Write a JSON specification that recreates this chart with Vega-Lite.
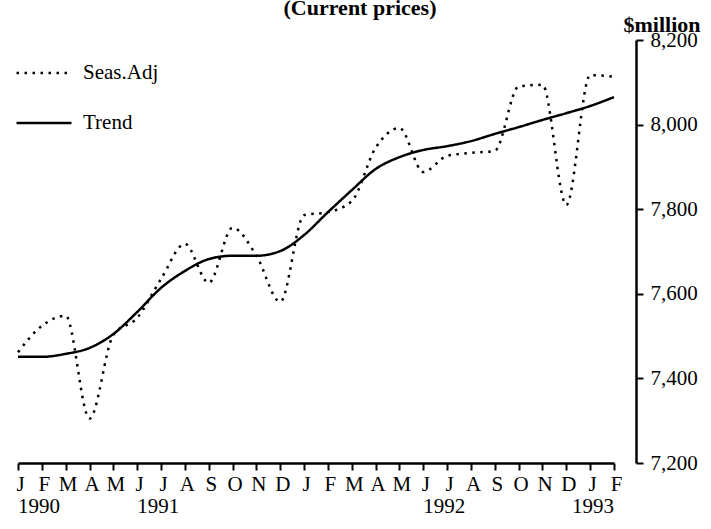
{
  "$schema": "https://vega.github.io/schema/vega-lite/v6.json",
  "width": 596,
  "height": 423,
  "autosize": "none",
  "padding": {"left": 18, "top": 40, "right": 97, "bottom": 66},
  "background": "white",
  "title": {"text": "(Current prices)", "font": "Liberation Serif", "fontSize": 22, "fontWeight": "bold", "color": "black", "anchor": "middle", "baseline": "alphabetic", "offset": 0, "dx": 44, "dy": 24},
  "config": {"view": {"stroke": null}, "axis": {"grid": false}},
  "datasets": {
    "series": [
      {"i": 0, "series": "Seas.Adj", "v": 7462}, {"i": 1, "series": "Seas.Adj", "v": 7524}, {"i": 2, "series": "Seas.Adj", "v": 7548}, {"i": 3, "series": "Seas.Adj", "v": 7305}, {"i": 4, "series": "Seas.Adj", "v": 7503}, {"i": 5, "series": "Seas.Adj", "v": 7543}, {"i": 6, "series": "Seas.Adj", "v": 7635}, {"i": 7, "series": "Seas.Adj", "v": 7718}, {"i": 8, "series": "Seas.Adj", "v": 7626}, {"i": 9, "series": "Seas.Adj", "v": 7756}, {"i": 10, "series": "Seas.Adj", "v": 7690}, {"i": 11, "series": "Seas.Adj", "v": 7581}, {"i": 12, "series": "Seas.Adj", "v": 7786}, {"i": 13, "series": "Seas.Adj", "v": 7793}, {"i": 14, "series": "Seas.Adj", "v": 7819}, {"i": 15, "series": "Seas.Adj", "v": 7945}, {"i": 16, "series": "Seas.Adj", "v": 7992}, {"i": 17, "series": "Seas.Adj", "v": 7888}, {"i": 18, "series": "Seas.Adj", "v": 7926}, {"i": 19, "series": "Seas.Adj", "v": 7933}, {"i": 20, "series": "Seas.Adj", "v": 7938}, {"i": 21, "series": "Seas.Adj", "v": 8090}, {"i": 22, "series": "Seas.Adj", "v": 8094}, {"i": 23, "series": "Seas.Adj", "v": 7810}, {"i": 24, "series": "Seas.Adj", "v": 8117}, {"i": 25, "series": "Seas.Adj", "v": 8113},
      {"i": 0, "series": "Trend", "v": 7451}, {"i": 1, "series": "Trend", "v": 7451}, {"i": 2, "series": "Trend", "v": 7458}, {"i": 3, "series": "Trend", "v": 7472}, {"i": 4, "series": "Trend", "v": 7505}, {"i": 5, "series": "Trend", "v": 7557}, {"i": 6, "series": "Trend", "v": 7614}, {"i": 7, "series": "Trend", "v": 7654}, {"i": 8, "series": "Trend", "v": 7682}, {"i": 9, "series": "Trend", "v": 7690}, {"i": 10, "series": "Trend", "v": 7690}, {"i": 11, "series": "Trend", "v": 7701}, {"i": 12, "series": "Trend", "v": 7739}, {"i": 13, "series": "Trend", "v": 7793}, {"i": 14, "series": "Trend", "v": 7845}, {"i": 15, "series": "Trend", "v": 7895}, {"i": 16, "series": "Trend", "v": 7923}, {"i": 17, "series": "Trend", "v": 7940}, {"i": 18, "series": "Trend", "v": 7949}, {"i": 19, "series": "Trend", "v": 7961}, {"i": 20, "series": "Trend", "v": 7978}, {"i": 21, "series": "Trend", "v": 7994}, {"i": 22, "series": "Trend", "v": 8011}, {"i": 23, "series": "Trend", "v": 8027}, {"i": 24, "series": "Trend", "v": 8044}, {"i": 25, "series": "Trend", "v": 8065}
    ],
    "years": [
      {"i": 0, "year": "1990", "pos": "left"}, {"i": 5, "year": "1991", "pos": "left"}, {"i": 17, "year": "1992", "pos": "left"}, {"i": 25, "year": "1993", "pos": "right"}
    ]
  },
  "layer": [
    {
      "data": {"name": "series"},
      "mark": {"type": "line", "interpolate": "monotone", "color": "black", "strokeWidth": 2.5},
      "encoding": {
        "x": {"field": "i", "type": "ordinal", "sort": "ascending", "scale": {"type": "point", "padding": 0},
          "axis": {"labelAngle": 0,
            "labelExpr": "['J','F','M','A','M','J','J','A','S','O','N','D','J','F','M','A','M','J','J','A','S','O','N','D','J','F'][datum.value]",
            "labelFont": "Liberation Serif", "labelFontSize": 21, "labelColor": "black", "labelBaseline": "alphabetic", "labelPadding": 20, "labelOffset": 2,
            "tickSize": 7, "tickWidth": 2, "tickColor": "black", "domainColor": "black", "domainWidth": 2.5, "title": null,
            "labelFlush": false, "labelOverlap": false, "labelBound": false}},
        "y": {"field": "v", "type": "quantitative", "scale": {"domain": [7200, 8200], "nice": false, "zero": false},
          "axis": {"orient": "right", "offset": 22, "values": [7200, 7400, 7600, 7800, 8000, 8200], "format": ",d",
            "labelFont": "Liberation Serif", "labelFontSize": 21, "labelColor": "black", "labelPadding": 7, "labelFlush": false, "labelOverlap": false,
            "tickSize": 7, "tickWidth": 2, "tickColor": "black", "domainColor": "black", "domainWidth": 2.5,
            "title": "$million", "titleFont": "Liberation Serif", "titleFontSize": 22, "titleFontWeight": "bold", "titleColor": "black",
            "titleAngle": 0, "titleAlign": "left", "titleBaseline": "alphabetic", "titleX": -13, "titleY": -9}},
        "strokeDash": {"field": "series", "type": "nominal", "scale": {"domain": ["Seas.Adj", "Trend"], "range": [[2.5, 5.5], [1, 0]]},
          "legend": {"orient": "none", "legendX": -3, "legendY": 4, "title": null, "padding": 0, "symbolType": "stroke", "symbolSize": 3025,
            "symbolStrokeWidth": 2.5, "symbolStrokeColor": "black", "labelFont": "Liberation Serif", "labelFontSize": 21, "labelColor": "black",
            "labelOffset": 10, "rowPadding": 11}}
      }
    },
    {
      "data": {"name": "years"},
      "transform": [{"filter": "datum.pos == 'left'"}],
      "mark": {"type": "text", "align": "left", "baseline": "alphabetic", "dy": 50, "font": "Liberation Serif", "fontSize": 21, "color": "black"},
      "encoding": {"x": {"field": "i", "type": "ordinal", "sort": "ascending"}, "y": {"datum": 7200}, "text": {"field": "year"}}
    },
    {
      "data": {"name": "years"},
      "transform": [{"filter": "datum.pos == 'right'"}],
      "mark": {"type": "text", "align": "right", "baseline": "alphabetic", "dy": 50, "font": "Liberation Serif", "fontSize": 21, "color": "black"},
      "encoding": {"x": {"field": "i", "type": "ordinal", "sort": "ascending"}, "y": {"datum": 7200}, "text": {"field": "year"}}
    }
  ]
}
